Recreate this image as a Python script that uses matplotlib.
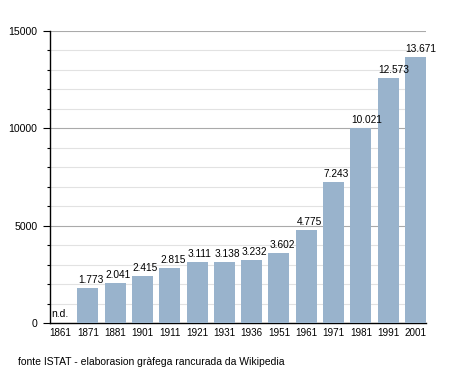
import matplotlib
matplotlib.use("Agg")
import matplotlib.pyplot as plt
from matplotlib.ticker import MultipleLocator

plt.rcParams['font.family'] = ['Liberation Sans', 'DejaVu Sans']

years = ['1861', '1871', '1881', '1901', '1911', '1921', '1931', '1936',
         '1951', '1961', '1971', '1981', '1991', '2001']
population = [None, 1773, 2041, 2415, 2815, 3111, 3138, 3232,
              3602, 4775, 7243, 10021, 12573, 13671]
source_note = 'fonte ISTAT - elaborasion gràfega rancurada da Wikipedia'


def fmt_it(n):
    return '{:,}'.format(n).replace(',', '.')


def plot_population():
    fig = plt.figure(figsize=(4.55, 3.73), dpi=100)
    ax = fig.add_axes([0.110, 0.134, 0.826, 0.783])

    width = 0.77
    for i, v in enumerate(population):
        left = i - width / 2 + 0.03
        if v is None:
            ax.text(left, 200, 'n.d.', ha='left', va='bottom', fontsize=7.5, zorder=5)
            continue
        ax.bar(i, v, width=width, color='#99b3cc', zorder=3)
        ax.text(left, v + 170, fmt_it(v), ha='left', va='bottom', fontsize=7.3, zorder=5)

    ax.set_xlim(-width / 2, len(years) - 1 + width / 2)
    ax.set_ylim(0, 15000)
    ax.set_xticks(range(len(years)))
    ax.set_xticklabels(years)
    ax.yaxis.set_major_locator(MultipleLocator(5000))
    ax.yaxis.set_minor_locator(MultipleLocator(1000))
    ax.grid(axis='y', which='major', color='#aaaaaa', linewidth=0.8, zorder=0)
    ax.grid(axis='y', which='minor', color='#e2e2e2', linewidth=0.8, zorder=0)
    ax.tick_params(axis='x', length=0, labelsize=7.1, pad=3.5)
    ax.tick_params(axis='y', which='major', length=5, width=0.8, labelsize=7.6, pad=4)
    ax.tick_params(axis='y', which='minor', length=2.5, width=0.8)

    for side in ['top', 'right']:
        ax.spines[side].set_visible(False)
    ax.spines['left'].set_linewidth(1.0)
    ax.spines['bottom'].set_linewidth(1.0)

    fig.text(18 / 455, 1 - 362 / 373, source_note, fontsize=7.5, va='center')
    fig.savefig('out.png', dpi=100)


plot_population()
